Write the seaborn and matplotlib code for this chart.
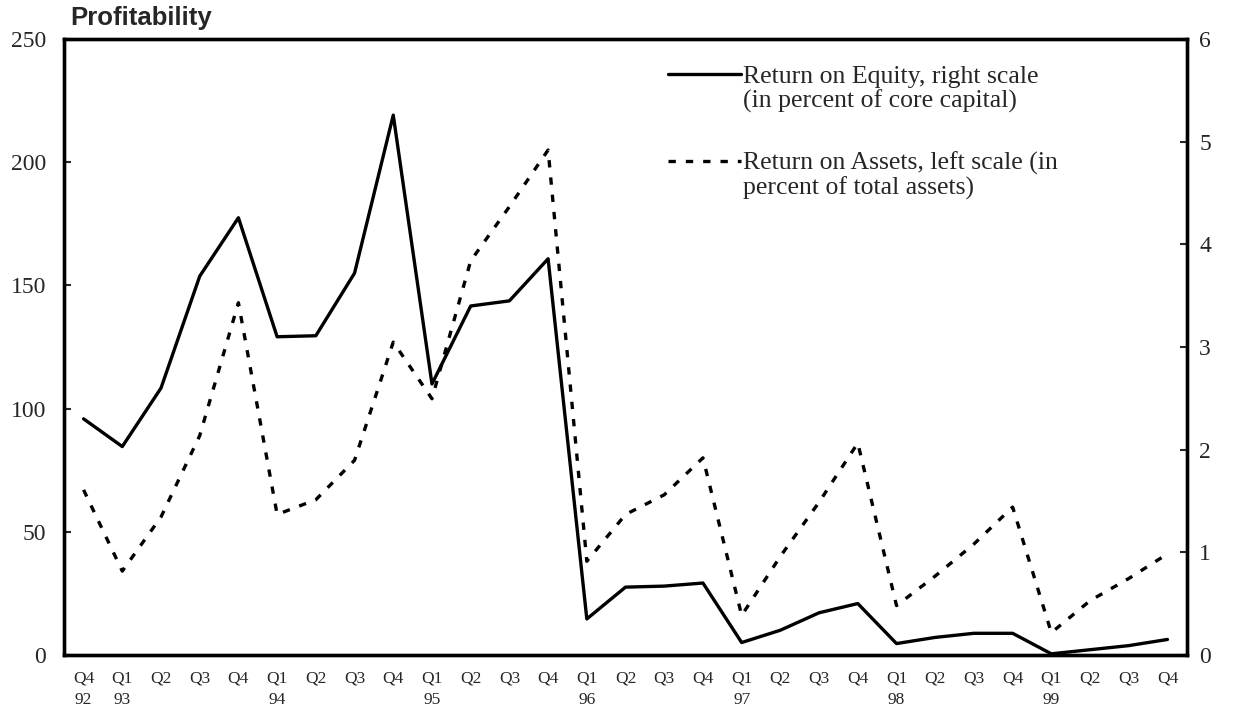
"""
Profitability chart: return on equity vs return on assets, Q4 1992 - Q4 1999
"""

import numpy as np
import matplotlib
matplotlib.use("Agg")
import matplotlib.pyplot as plt
from matplotlib.lines import Line2D
import seaborn as sns


# DATA

quarters = ["Q4", "Q1", "Q2", "Q3", "Q4", "Q1", "Q2", "Q3", "Q4", "Q1",
            "Q2", "Q3", "Q4", "Q1", "Q2", "Q3", "Q4", "Q1", "Q2", "Q3",
            "Q4", "Q1", "Q2", "Q3", "Q4", "Q1", "Q2", "Q3", "Q4"]
years = ["92", "93", "", "", "", "94", "", "", "", "95",
         "", "", "", "96", "", "", "", "97", "", "",
         "", "98", "", "", "", "99", "", "", ""]

# Return on Equity (right scale)
roe = [2.30, 2.03, 2.60, 3.69, 4.26, 3.10, 3.11, 3.72, 5.26, 2.64,
       3.40, 3.45, 3.86, 0.35, 0.66, 0.67, 0.70, 0.12, 0.24, 0.41,
       0.50, 0.11, 0.17, 0.21, 0.21, 0.01, 0.05, 0.09, 0.15]

# Return on Assets (left scale)
roa = [67, 34, 56, 89, 143, 57, 63, 79, 127, 104,
       160, 182, 205, 38, 57, 65, 80, 16, 40, 62,
       86, 20, 32, 45, 60, 9, 22, 31, 41]

left_ticks = [0, 50, 100, 150, 200, 250]
right_ticks = [0, 1, 2, 3, 4, 5, 6]

label_roe = ["Return on Equity, right scale", "(in percent of core capital)"]
label_roa = ["Return on Assets, left scale (in", "percent of total assets)"]


# PLOT

sns.set_style("white")
plt.rcParams["font.family"] = ["Liberation Serif", "DejaVu Serif"]

x = np.arange(len(quarters))

fig = plt.figure(figsize=(12.35, 7.26), dpi=100)
ax = fig.add_axes([0.052, 0.098, 0.909, 0.848])
ax2 = ax.twinx()

dash = (0, (2.2, 3.0))
sns.lineplot(x=x, y=roa, ax=ax, color="black", linewidth=2.4, linestyle=dash)
sns.lineplot(x=x, y=roe, ax=ax2, color="black", linewidth=2.4)

ax.set_xlim(-0.5, len(quarters) - 0.5)
ax.set_ylim(0, 250)
ax2.set_ylim(0, 6)

ax.set_yticks(left_ticks)
ax.set_yticklabels([str(t) for t in left_ticks], fontsize=17)
ax2.set_yticks(right_ticks)
ax2.set_yticklabels([str(t) for t in right_ticks], fontsize=17)

ax.set_xticks(x)
ax.set_xticklabels([f"{q}\n{y}" for q, y in zip(quarters, years)],
                   fontsize=12.5, linespacing=1.45, va="top")
ax.set_xticks(x[:-1] + 0.5, minor=True)

ax.tick_params(axis="x", which="major", length=0, pad=11)
ax.tick_params(axis="x", which="minor", direction="in", length=5, width=1.5)
ax.tick_params(axis="y", direction="in", length=5, width=1.5, pad=13)
ax2.tick_params(axis="y", direction="in", length=5, width=1.5, pad=9)

for a in (ax, ax2):
    a.set_xlabel("")
    a.set_ylabel("")
    for s in a.spines.values():
        s.set_visible(True)
        s.set_color("black")
        s.set_linewidth(2.4)

# legend: two blocks, handle next to the first text line
blank = Line2D([], [], color="none")
h_roe = Line2D([], [], color="black", linewidth=2.4)
h_roa = Line2D([], [], color="black", linewidth=2.4, linestyle=dash)

leg_kw = dict(loc="upper left", frameon=False, fontsize=18.5,
              handlelength=2.85, handletextpad=0.05, labelspacing=0.06,
              borderpad=0.2)
leg1 = ax.legend([h_roe, blank], label_roe,
                 bbox_to_anchor=(0.522, 0.988), **leg_kw)
ax.add_artist(leg1)
ax.legend([h_roa, blank], label_roa,
          bbox_to_anchor=(0.522, 0.846), **leg_kw)

fig.text(0.057, 0.958, "Profitability", fontsize=18.5, fontweight="bold",
         family=["Liberation Sans", "DejaVu Sans"], ha="left", va="bottom")

plt.savefig("out.png", dpi=100)
